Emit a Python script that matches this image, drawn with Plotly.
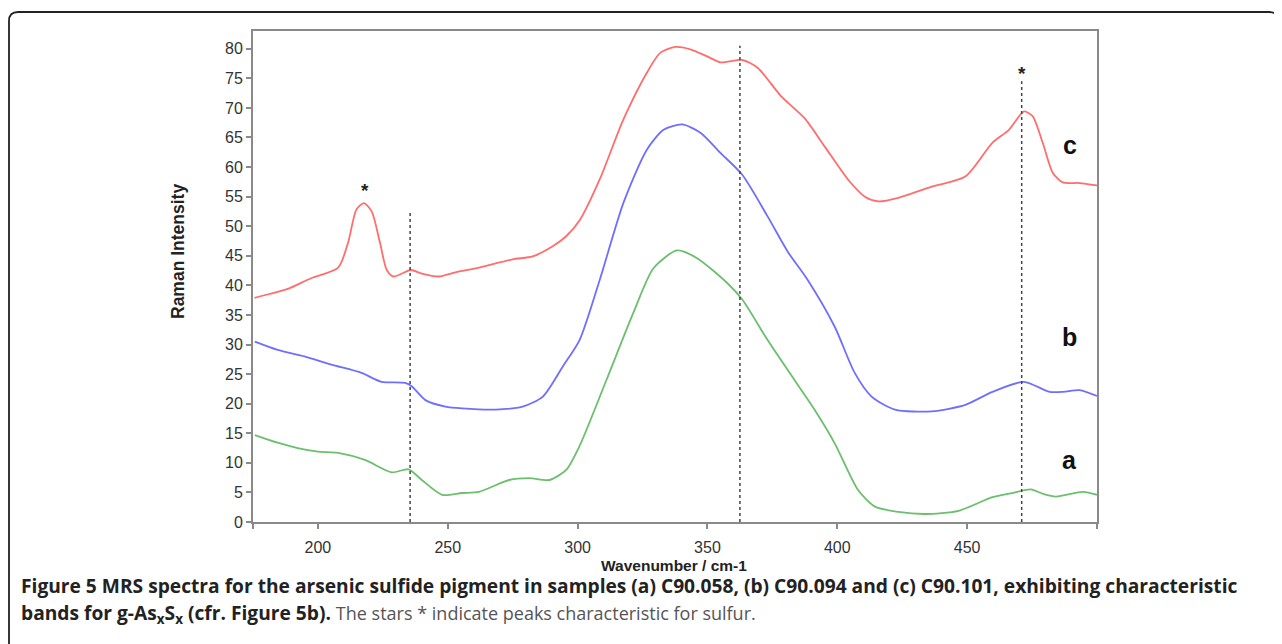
import plotly.graph_objects as go

# ---- data ----
c_x = [175.6, 181, 188.4, 197.4, 207.8, 211.6, 214.8, 217.7, 220.7, 223.9, 226.5, 229.1, 235.8, 240, 246.5,
       253, 262, 274.9, 282.7, 290.4, 295.6, 300.8, 308.5, 317.6, 326.6, 331.8, 337.6, 343.4, 349.9, 355,
       363.4, 369.3, 378.3, 387.3, 395.1, 404.1, 410.6, 415.8, 423.5, 436.4, 449.3, 459.7, 466.1, 471.9,
       475.2, 479.1, 483, 486.8, 493.3, 500]
c_y = [37.9, 38.5, 39.4, 41.2, 43.0, 47.2, 52.8, 53.9, 52.5, 47.2, 42.6, 41.5, 42.6, 42.0, 41.5,
       42.2, 43.0, 44.4, 44.9, 46.6, 48.3, 51.0, 57.9, 68.0, 75.9, 79.3, 80.3, 79.9, 78.7, 77.7,
       78.1, 76.8, 72.0, 68.3, 63.5, 57.9, 55.0, 54.2, 54.8, 56.7, 58.4, 64.1, 66.3, 69.4,
       68.6, 64.1, 59.0, 57.4, 57.3, 56.9]

b_x = [175.7, 184.5, 194.8, 205.2, 216.8, 224.5, 233.6, 236.2, 241.4, 249.1, 255.5, 268.5, 278.8, 286.6,
       294.3, 300.8, 308.5, 317.6, 326.6, 333.1, 340.2, 347.3, 355, 363.4, 373.1, 380.9, 388.6,
       399, 406.7, 413.2, 422.2, 436.4, 449.3, 459.7, 471.9, 481.7, 487, 493.3, 500]
b_y = [30.5, 29.1, 28.0, 26.6, 25.2, 23.7, 23.5, 22.9, 20.6, 19.5, 19.2, 19.0, 19.5, 21.2,
       26.3, 30.8, 40.9, 53.9, 62.9, 66.3, 67.2, 65.8, 62.4, 58.7, 51.7, 45.7, 40.9,
       33.0, 25.2, 21.2, 19.0, 18.7, 19.8, 22.0, 23.7, 22.0, 22.0, 22.3, 21.3]

a_x = [175.7, 184.5, 192.2, 200, 207.8, 218.1, 228.4, 234.9, 240, 247.8, 255.5, 262, 273.6, 281.4, 289.1,
       295.6, 300.8, 311.1, 321.4, 329.2, 338.3, 346, 357.6, 363.4, 373.1, 383.5, 391.2, 399, 408,
       414.5, 423.5, 433.8, 446.7, 459.7, 467.4, 474.5, 479, 484.2, 494.6, 500]
a_y = [14.7, 13.4, 12.5, 11.9, 11.7, 10.5, 8.4, 8.9, 7.1, 4.6, 4.9, 5.1, 7.1, 7.4, 7.1,
       8.8, 12.9, 24.0, 35.3, 42.9, 45.9, 44.6, 40.4, 37.6, 30.8, 24.0, 19.0, 13.3, 5.4,
       2.6, 1.7, 1.35, 1.9, 4.2, 4.9, 5.5, 4.8, 4.3, 5.1, 4.6]

series_names = ["a", "b", "c"]
series_colors = ["#6cbf6c", "#6f6fff", "#ff6e6e"]
label_y = [10.5, 31.3, 63.8]
label_x = 489.5

band_x = [235.5, 362.5, 471]
band_top = [52.5, 80.5, 74.5]
star_x = [218, 471]
star_y = [56.0, 75.8]

x_ticks = [200, 250, 300, 350, 400, 450]
x_edge_ticks = [175, 500]
y_ticks = list(range(0, 85, 5))

# ---- layout geometry (page pixels; the page body adds an 8 px offset) ----
OFF = 8
W, H = 1282 - OFF, 644 - OFF
L, R, T, B = 253 - OFF, 1097 - OFF, 31 - OFF, 522 - OFF


def px(p):
    return (p - OFF - L) / (R - L)


def py(p):
    return (B - (p - OFF)) / (B - T)


fig = go.Figure()
for xs, ys, name, col in [(a_x, a_y, "a", series_colors[0]),
                          (b_x, b_y, "b", series_colors[1]),
                          (c_x, c_y, "c", series_colors[2])]:
    fig.add_trace(go.Scatter(x=xs, y=ys, mode="lines", name=name,
                             line=dict(color=col, width=1.8, shape="spline", smoothing=0.7),
                             showlegend=False, hoverinfo="skip"))

for bx, bt in zip(band_x, band_top):
    fig.add_shape(type="line", x0=bx, x1=bx, y0=0, y1=bt, xref="x", yref="y",
                  line=dict(color="#444444", width=1.5, dash="dot"))

for sx, sy in zip(star_x, star_y):
    fig.add_annotation(x=sx, y=sy, text="<b>*</b>", showarrow=False, xref="x", yref="y",
                       font=dict(family="Liberation Sans", size=19, color="#222222"))

for nm, ly in zip(series_names, label_y):
    fig.add_annotation(x=label_x, y=ly, text="<b>%s</b>" % nm, showarrow=False, xref="x", yref="y",
                       font=dict(family="Liberation Sans", size=25, color="#111111"))

# axis titles
fig.add_annotation(x=px(178), y=py(252), xref="paper", yref="paper", text="<b>Raman Intensity</b>",
                   textangle=-90, showarrow=False, xanchor="center", yanchor="middle",
                   font=dict(family="Liberation Sans", size=17.5, color="#222222"))
fig.add_annotation(x=px(674), y=py(565), xref="paper", yref="paper", text="<b>Wavenumber / cm-1</b>",
                   showarrow=False, xanchor="center", yanchor="middle",
                   font=dict(family="Liberation Sans", size=15.5, color="#222222"))

# caption
cap1 = ("<b>Figure 5</b> <b>MRS spectra for the arsenic sulfide pigment in samples (a) C90.058, "
        "(b) C90.094 and (c) C90.101, exhibiting characteristic</b>")
cap2 = ("<b>bands for g-As<sub>x</sub>S<sub>x</sub> (cfr. Figure 5b).</b> "
        "<span style='color:#555555;font-size:18px'>The stars * indicate peaks characteristic for sulfur.</span>")
fig.add_annotation(x=px(19), y=py(585), xref="paper", yref="paper", text=cap1, showarrow=False,
                   xanchor="left", yanchor="middle", align="left",
                   font=dict(family="Open Sans", size=19.2, color="#222222"))
fig.add_annotation(x=px(19), y=py(613), xref="paper", yref="paper", text=cap2, showarrow=False,
                   xanchor="left", yanchor="middle", align="left",
                   font=dict(family="Open Sans", size=19.2, color="#222222"))

# outer rounded frame
r = 9
xl, xr, yt, yb = 9, 1278, 12, 670
path = ("M {a},{b} L {a},{c} Q {a},{d} {e},{d} L {f},{d} Q {g},{d} {g},{c} L {g},{b}").format(
    a=px(xl), b=py(yb), c=py(yt + r), d=py(yt), e=px(xl + r), f=px(xr - r), g=px(xr))
fig.add_shape(type="path", path=path, xref="paper", yref="paper",
              line=dict(color="#222222", width=1.8))

fig.update_xaxes(range=[175, 500], tickvals=x_ticks,
                 showline=True, linecolor="#8a8a8a", linewidth=2, mirror=True,
                 ticks="outside", ticklen=5, tickcolor="#8a8a8a", tickwidth=1.5,
                 minor=dict(tickvals=x_edge_ticks, ticks="outside", ticklen=5,
                            tickcolor="#8a8a8a", tickwidth=1.5, showgrid=False),
                 ticklabelstandoff=5,
                 showgrid=False, zeroline=False,
                 tickfont=dict(family="Liberation Sans", size=16, color="#333333"))
fig.update_yaxes(range=[0, 83], tickvals=y_ticks,
                 showline=True, linecolor="#8a8a8a", linewidth=2, mirror=True,
                 ticks="outside", ticklen=5, tickcolor="#8a8a8a", tickwidth=1.5,
                 showgrid=False, zeroline=False,
                 tickfont=dict(family="Liberation Sans", size=16, color="#333333"))

fig.update_layout(width=W, height=H, margin=dict(l=L, r=W - R, t=T, b=H - B),
                  paper_bgcolor="white", plot_bgcolor="white")

fig.write_html("out.html")
